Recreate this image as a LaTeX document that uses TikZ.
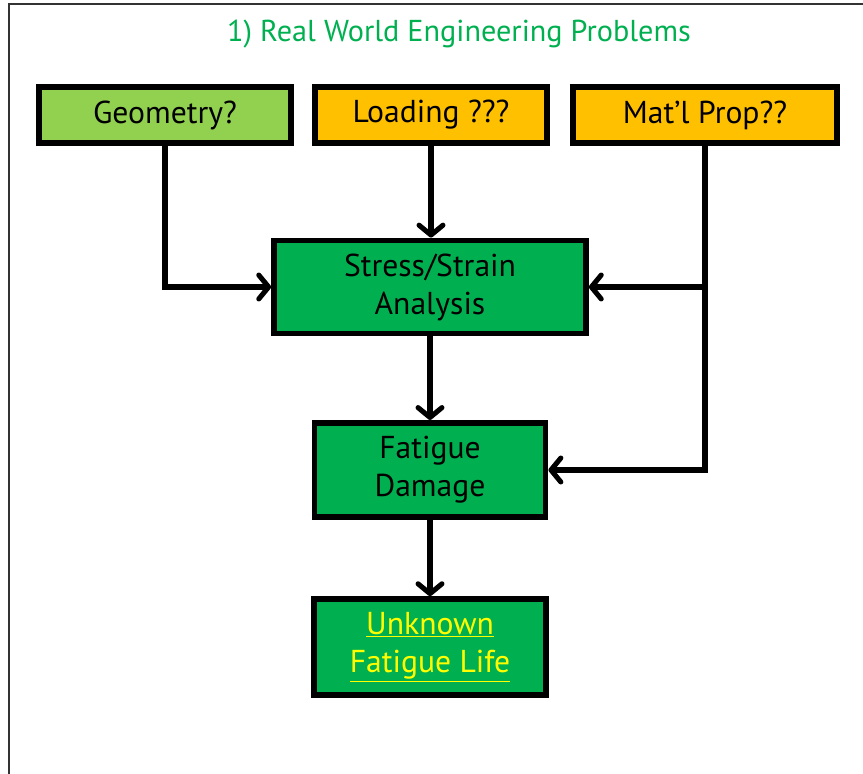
\documentclass[tikz,border=0pt]{standalone}
\usepackage{fontspec}
\setmainfont{PT Sans}
\usetikzlibrary{arrows.meta}
\definecolor{geogreen}{HTML}{92D050}
\definecolor{askorange}{HTML}{FFC000}
\definecolor{boxgreen}{HTML}{00B050}
\definecolor{lifeyellow}{HTML}{FFFF00}
\newcommand{\boxline}{4pt}
\newcommand{\txtsize}{\fontsize{22.5}{27}\selectfont}

\begin{document}
\begin{tikzpicture}[x=0.025cm,y=-0.025cm,
    blk/.style={draw, line width=\boxline, inner sep=0pt, align=center, font=\txtsize},
    arr/.style={line width=3.6pt, -{Straight Barb[length=7pt,width=17pt,line cap=round,round]}}]

      \useasboundingbox (0,0) rectangle (863,774);
      \draw[black!80, line width=1.2pt] (9,790) -- (9,4) -- (880,4);

          %%  heading  %%
      \node (ttl) at (459,34) [text=boxgreen, font=\fontsize{21.5}{26}\selectfont] {1) Real World Engineering Problems};

          %%  the three inputs  %%
      \node (geo) at (165,115) [blk, fill=geogreen, minimum width=6.3cm, minimum height=1.4cm] {Geometry?};
      \node (load) at (431,115) [blk, fill=askorange, minimum width=5.8cm, minimum height=1.4cm] {Loading ???};
      \node (mat) at (705,115) [blk, fill=askorange, minimum width=6.6cm, minimum height=1.4cm] {Mat'l Prop??};

          %%  the chain  %%
      \node (ssa) at (430,287) [blk, fill=boxgreen, minimum width=7.8cm, minimum height=2.33cm] {Stress/Strain\\Analysis};
      \node (fat) at (430,470) [blk, fill=boxgreen, minimum width=5.78cm, minimum height=2.36cm] {Fatigue\\Damage};
      \node (life) at (430,647) [blk, fill=boxgreen, minimum width=5.8cm, minimum height=2.4cm, text=lifeyellow] {\underline{Unknown}\\\underline{Fatigue Life}};

      \draw[arr] (geo.south) |- (ssa.west);
      \draw[arr] (load.south) -- (load.south |- ssa.north);
      \draw[arr] (mat.south) |- (fat.east);
      \draw[arr] (mat.south |- ssa.east) -- (ssa.east);
      \draw[arr] (ssa.south) -- (fat.north);
      \draw[arr] (fat.south) -- (life.north);

\end{tikzpicture}
\end{document}
